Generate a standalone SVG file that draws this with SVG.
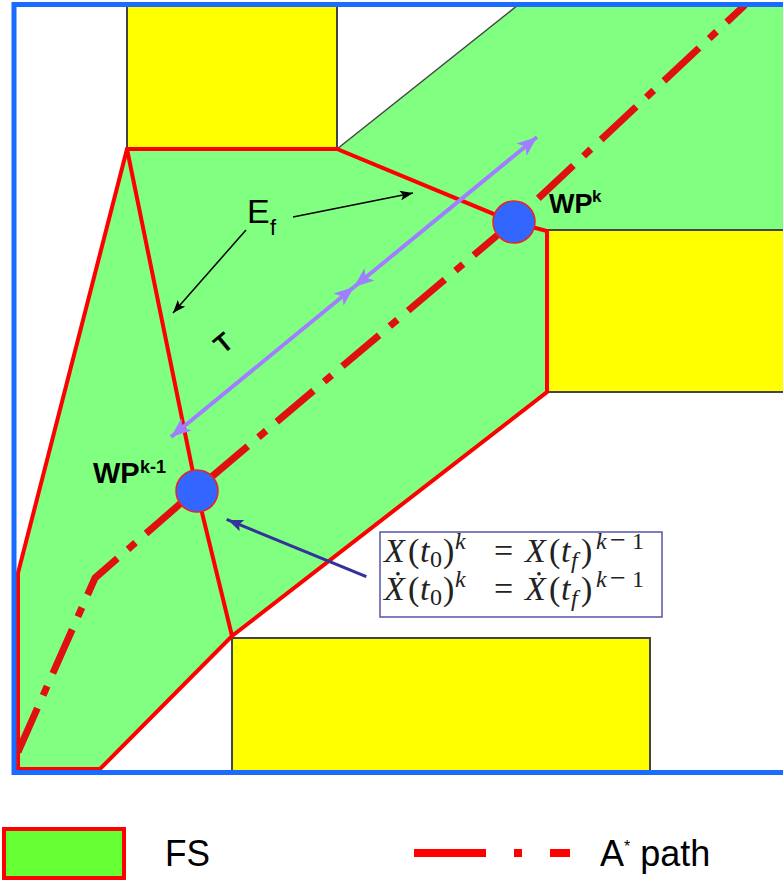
<svg xmlns="http://www.w3.org/2000/svg" width="783" height="882" viewBox="0 0 783 882">
<style>
.obst{fill:#ffff00;stroke:#444444;stroke-width:2}
.fs{fill:#80ff80;stroke:none}
.fsedge{fill:none;stroke:#ff0000;stroke-width:4;stroke-linejoin:miter}
.wp{fill:#3366ff;stroke:#ee2222;stroke-width:1.5}
.wpl{font-family:"Liberation Sans",Arial,sans-serif;font-weight:bold;fill:#000}
.lbl{font-family:"Liberation Sans",Arial,sans-serif;fill:#000}
.eq{font-family:"Liberation Serif","DejaVu Serif",serif;fill:#222;font-size:34px}
.it{font-style:italic}
.sc{font-size:24px}
.astar{fill:none;stroke:#e01010;stroke-width:7;stroke-dasharray:48 14 10 14;stroke-linejoin:round}
.purple{stroke:#9f7fff;stroke-width:4;fill:none}
.blk{stroke:#000;stroke-width:1.5;fill:none}
.navy{stroke:#333399;stroke-width:3;fill:none}
</style>
<defs>
<marker id="mP" markerUnits="userSpaceOnUse" markerWidth="22" markerHeight="16" refX="20" refY="8" orient="auto-start-reverse" viewBox="0 0 22 16">
<path d="M0,0 L20,8 L0,16 L5,8 z" fill="#9f7fff"/>
</marker>
<marker id="mB" markerUnits="userSpaceOnUse" markerWidth="14" markerHeight="10" refX="13" refY="5" orient="auto" viewBox="0 0 14 10">
<path d="M0,0 L13,5 L0,10 L3,5 z" fill="#000"/>
</marker>
<marker id="mN" markerUnits="userSpaceOnUse" markerWidth="16" markerHeight="12" refX="15" refY="6" orient="auto" viewBox="0 0 16 12">
<path d="M0,0 L15,6 L0,12 L3,6 z" fill="#333399"/>
</marker>
</defs>
<rect x="0" y="0" width="783" height="882" fill="#ffffff"/>

<g id="free-space">
<polygon class="fs" points="127,149 337,149 517,6 790,6 790,230 547,230 547,392 232,636 100,769 18,769 18,573"/>
</g>

<g id="obstacle-top">
<rect class="obst" x="127" y="5" width="210" height="144"/>
</g>
<g id="obstacle-right">
<rect class="obst" x="547" y="230" width="250" height="162"/>
</g>
<g id="obstacle-bottom">
<rect class="obst" x="232" y="638" width="418" height="134"/>
</g>
<line x1="337" y1="149" x2="518" y2="5" stroke="#444444" stroke-width="1.5"/>

<g id="fs-boundary">
<polygon class="fsedge" points="18,573 127,149 337,149 513,222 547,231 547,392 232,636 100,769 18,769"/>
<polyline class="fsedge" points="127,149 197,492 232,636"/>
</g>

<g id="astar-path">
<polyline class="astar" points="18,752 95,578 196,490 513,222 745,5"/>
</g>

<g id="frame">
<rect x="14" y="4.5" width="800" height="768" fill="none" stroke="#1a6bff" stroke-width="5"/>
</g>

<g id="connectors">
<line class="purple" x1="354" y1="287" x2="537" y2="137" marker-start="url(#mP)" marker-end="url(#mP)"/>
<line class="purple" x1="354" y1="287" x2="171" y2="437" marker-start="url(#mP)" marker-end="url(#mP)"/>
<line class="blk" x1="293" y1="217" x2="413" y2="193" marker-end="url(#mB)"/>
<line class="blk" x1="246" y1="230" x2="173" y2="313" marker-end="url(#mB)"/>
<line class="navy" x1="365" y1="576" x2="228" y2="520" marker-end="url(#mN)" stroke-linecap="square"/>
</g>

<g id="wp-k">
<circle class="wp" cx="514" cy="222" r="21"/>
<text class="wpl" x="549" y="213" font-size="27">WP</text>
<text class="wpl" x="592" y="202" font-size="17">k</text>
</g>

<g id="wp-k-1">
<circle class="wp" cx="197" cy="491" r="21"/>
<text class="wpl" x="93" y="483" font-size="29">WP</text>
<text class="wpl" x="140" y="473" font-size="18">k-1</text>
</g>

<g id="label-ef">
<text class="lbl" x="247" y="223" font-size="34">E</text>
<text class="lbl" x="270" y="235" font-size="22">f</text>
</g>

<g id="label-t">
<text class="wpl" x="0" y="0" font-size="26" text-anchor="middle" transform="translate(229,350) rotate(-40)">T</text>
</g>

<g id="constraint-box">
<rect x="380" y="532" width="282" height="85" fill="#ffffff" stroke="#5555aa" stroke-width="1.5"/>
<text class="eq"><tspan class="it" x="384" y="562">X</tspan><tspan x="408" y="562">(</tspan><tspan class="it" x="420" y="562">t</tspan><tspan class="sc" x="430" y="567">0</tspan><tspan x="443" y="562">)</tspan><tspan class="it sc" x="455" y="549">k</tspan><tspan x="494" y="562">=</tspan><tspan class="it" x="525" y="562">X</tspan><tspan x="549" y="562">(</tspan><tspan class="it" x="561" y="562">t</tspan><tspan class="it sc" x="571" y="568">f</tspan><tspan x="581" y="562">)</tspan><tspan class="it sc" x="596" y="549">k</tspan><tspan x="610" y="549" font-size="28">−</tspan><tspan class="sc" x="632" y="549">1</tspan></text>
<text class="eq"><tspan class="it" x="384" y="600">Ẋ</tspan><tspan x="408" y="600">(</tspan><tspan class="it" x="420" y="600">t</tspan><tspan class="sc" x="430" y="605">0</tspan><tspan x="443" y="600">)</tspan><tspan class="it sc" x="455" y="587">k</tspan><tspan x="494" y="600">=</tspan><tspan class="it" x="525" y="600">Ẋ</tspan><tspan x="549" y="600">(</tspan><tspan class="it" x="561" y="600">t</tspan><tspan class="it sc" x="571" y="606">f</tspan><tspan x="581" y="600">)</tspan><tspan class="it sc" x="596" y="587">k</tspan><tspan x="610" y="587" font-size="28">−</tspan><tspan class="sc" x="632" y="587">1</tspan></text>
</g>

<g id="legend-fs">
<rect x="4" y="829" width="120" height="49" fill="#66ff33" stroke="#ff0000" stroke-width="4"/>
<text class="lbl" x="165" y="866" font-size="36" textLength="45" lengthAdjust="spacingAndGlyphs">FS</text>
</g>
<g id="legend-astar">
<line x1="414" y1="853" x2="486" y2="853" stroke="#ff0000" stroke-width="8"/>
<line x1="514" y1="853" x2="522" y2="853" stroke="#ff0000" stroke-width="8"/>
<line x1="550" y1="853" x2="570" y2="853" stroke="#ff0000" stroke-width="8"/>
<text class="lbl" x="600" y="866" font-size="36"><tspan>A</tspan><tspan font-size="16" dy="-14">*</tspan><tspan dy="14"> path</tspan></text>
</g>
</svg>
